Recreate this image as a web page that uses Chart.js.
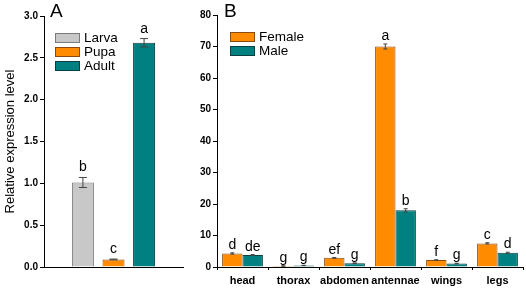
<!DOCTYPE html>
<html>
<head>
<meta charset="utf-8">
<script src="https://cdn.jsdelivr.net/npm/chart.js@4.4.1/dist/chart.umd.min.js"></script>
<style>
  body { margin: 0; background: #fff; width: 526px; height: 289px; overflow: hidden; position: relative; }
  canvas { position: absolute; top: 0; }
  #chartA { left: 0; }
  #chartB { left: 190px; }
</style>
</head>
<body>
<canvas id="chartA" width="190" height="289"></canvas>
<canvas id="chartB" width="336" height="289"></canvas>
<script>
// Panel A: developmental stages
const stagesA = ['Larva', 'Pupa', 'Adult'];
const valuesA = [1.01, 0.09, 2.68];
const errorsA = [0.06, 0.005, 0.05];
const lettersA = ['b', 'c', 'a'];
const ticksA = [0, 0.5, 1.0, 1.5, 2.0, 2.5, 3.0];

// Panel B: tissues
const tissues = ['head', 'thorax', 'abdomen', 'antennae', 'wings', 'legs'];
const female = [4.3, 0.3, 2.9, 70.0, 2.2, 7.5];
const male = [3.8, 0.5, 1.2, 18.0, 1.1, 4.5];
const femaleErr = [0.2, 0.05, 0.1, 0.8, 0.1, 0.2];
const maleErr = [0.15, 0.05, 0.1, 0.5, 0.1, 0.2];
const lettersF = ['d', 'g', 'ef', 'a', 'f', 'c'];
const lettersM = ['de', 'g', 'g', 'b', 'g', 'd'];
const ticksB = [0, 10, 20, 30, 40, 50, 60, 70, 80];

const FONT = '"Liberation Sans", Arial, sans-serif';
const fillCols = { gray: '#c8c8c8', orange: '#ff8c00', teal: '#008080' };
const lineCols = { gray: '#7a7a7a', orange: '#8a4a10', teal: '#0b4040' };

// error bars + letters drawn from dataset meta
const annotate = {
  id: 'annotate',
  afterDatasetsDraw(chart, args, opts) {
    const ctx = chart.ctx;
    const y = chart.scales.y;
    ctx.save();
    chart.data.datasets.forEach((ds, di) => {
      const meta = chart.getDatasetMeta(di);
      meta.data.forEach((bar, i) => {
        const v = ds.data[i];
        const e = ds.errors[i];
        const yTop = y.getPixelForValue(v + e);
        const yBot = y.getPixelForValue(v - e);
        ctx.strokeStyle = '#444';
        ctx.lineWidth = 1;
        ctx.beginPath();
        ctx.moveTo(bar.x, yTop); ctx.lineTo(bar.x, yBot);
        ctx.moveTo(bar.x - opts.cap, yTop); ctx.lineTo(bar.x + opts.cap, yTop);
        ctx.moveTo(bar.x - opts.cap, yBot); ctx.lineTo(bar.x + opts.cap, yBot);
        ctx.stroke();
        ctx.fillStyle = '#000';
        ctx.font = '14px ' + FONT;
        ctx.textAlign = 'center';
        ctx.textBaseline = 'alphabetic';
        ctx.fillText(ds.letters[i], bar.x, yTop - opts.gap);
      });
    });
    ctx.restore();
  }
};

// legend boxes inside the plot + panel letter
const boxLegend = {
  id: 'boxLegend',
  afterDraw(chart, args, opts) {
    const ctx = chart.ctx;
    ctx.save();
    chart.data.datasets.forEach((ds, i) => {
      const x = opts.x, y = opts.y + i * opts.step;
      ctx.fillStyle = ds.backgroundColor;
      ctx.fillRect(x, y, 25, 10);
      ctx.strokeStyle = ds.borderColor;
      ctx.lineWidth = 1;
      ctx.strokeRect(x + 0.5, y + 0.5, 24, 9);
      ctx.fillStyle = '#000';
      ctx.font = '13.5px ' + FONT;
      ctx.textAlign = 'left';
      ctx.textBaseline = 'middle';
      ctx.fillText(ds.label, x + 29, y + 5.5);
    });
    ctx.font = '19px ' + FONT;
    ctx.textBaseline = 'top';
    ctx.fillText(opts.panel, opts.px, opts.py);
    ctx.restore();
  }
};

function yAxis(max, ticks, width, decimals) {
  return {
    min: 0, max: max,
    afterFit: s => { s.width = width; },
    afterBuildTicks: s => { s.ticks = ticks.map(v => ({ value: v })); },
    border: { display: true, color: '#000', width: 1 },
    grid: { display: true, drawOnChartArea: false, drawTicks: true, tickLength: 4, color: '#000' },
    ticks: {
      color: '#000', padding: 2,
      font: { family: FONT, size: 10, weight: 'bold' },
      callback: v => v.toFixed(decimals)
    }
  };
}

const colsA = ['gray', 'orange', 'teal'];
new Chart(document.getElementById('chartA'), {
  type: 'bar',
  data: {
    labels: [''],
    datasets: stagesA.map((s, i) => ({
      label: s,
      data: [valuesA[i]],
      errors: [errorsA[i]],
      letters: [lettersA[i]],
      backgroundColor: fillCols[colsA[i]],
      borderColor: lineCols[colsA[i]],
      borderWidth: 1,
      categoryPercentage: 0.66,
      barPercentage: 0.72
    }))
  },
  options: {
    responsive: false,
    animation: false,
    layout: { padding: { top: 16, right: 7, bottom: 0, left: 0 } },
    plugins: {
      legend: { display: false },
      tooltip: { enabled: false },
      annotate: { cap: 4, gap: 6 },
      boxLegend: { x: 55, y: 33, step: 14, panel: 'A', px: 50, py: 2 }
    },
    scales: {
      x: {
        afterFit: s => { s.height = 22; },
        border: { display: true, color: '#000', width: 1 },
        grid: { display: false },
        ticks: { display: false }
      },
      y: Object.assign(yAxis(3, ticksA, 44, 1), {
        title: { display: true, text: 'Relative expression level', color: '#000', padding: 3,
                 font: { family: FONT, size: 13 } }
      })
    }
  },
  plugins: [annotate, boxLegend]
});

new Chart(document.getElementById('chartB'), {
  type: 'bar',
  data: {
    labels: tissues,
    datasets: [
      { label: 'Female', data: female, errors: femaleErr, letters: lettersF,
        backgroundColor: fillCols.orange, borderColor: lineCols.orange, borderWidth: 1,
        categoryPercentage: 0.8, barPercentage: 1.0 },
      { label: 'Male', data: male, errors: maleErr, letters: lettersM,
        backgroundColor: fillCols.teal, borderColor: lineCols.teal, borderWidth: 1,
        categoryPercentage: 0.8, barPercentage: 1.0 }
    ]
  },
  options: {
    responsive: false,
    animation: false,
    layout: { padding: { top: 15, right: 3, bottom: 0, left: 0 } },
    plugins: {
      legend: { display: false },
      tooltip: { enabled: false },
      annotate: { cap: 2, gap: 4 },
      boxLegend: { x: 40, y: 32, step: 14, panel: 'B', px: 34, py: 2 }
    },
    scales: {
      x: {
        afterFit: s => { s.height = 22; },
        border: { display: true, color: '#000', width: 1 },
        grid: { display: true, offset: true, drawOnChartArea: false, tickLength: 3, color: '#000' },
        ticks: { color: '#000', padding: 4, maxRotation: 0, minRotation: 0, autoSkip: false,
                 font: { family: FONT, size: 11, weight: 'bold' } }
      },
      y: yAxis(80, ticksB, 27, 0)
    }
  },
  plugins: [annotate, boxLegend]
});
</script>
</body>
</html>
